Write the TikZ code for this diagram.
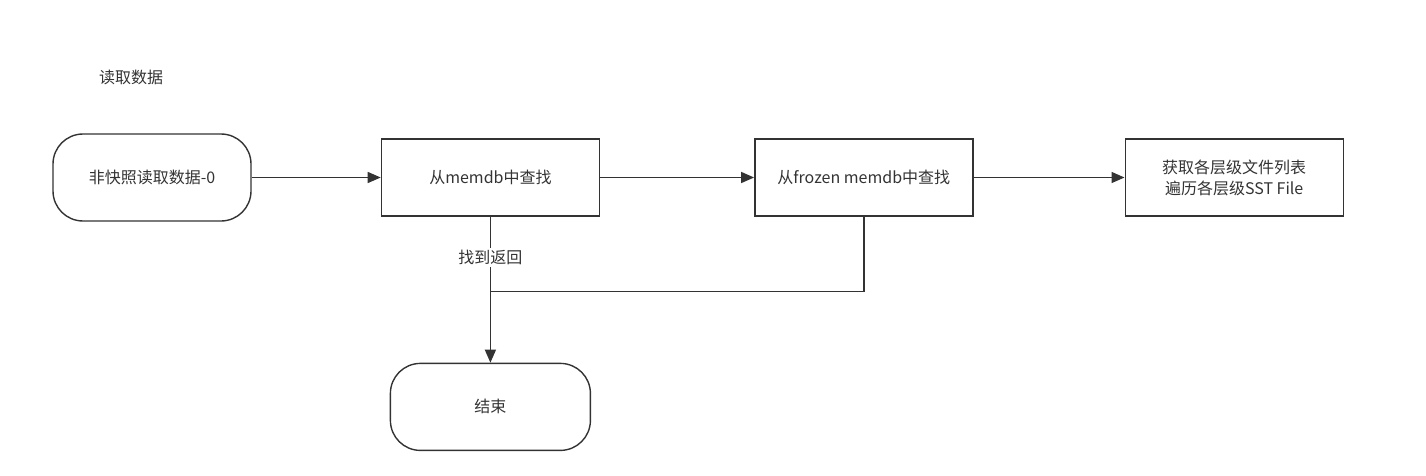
\documentclass[tikz,border=0pt]{standalone}
\usepackage{fontspec}
\newfontfamily\cjk{Noto Sans CJK SC}
\usepackage{tikz}
\usetikzlibrary{arrows.meta, positioning}
\usepackage{xcolor}
\definecolor{flowline}{HTML}{333333}
\definecolor{flowtext}{HTML}{333333}

\begin{document}
\begin{tikzpicture}[
    x=1pt, y=-1pt,
    every node/.style={font=\cjk\fontsize{16}{21}\selectfont, text=flowtext},
    terminal/.style={draw=flowline, rounded corners=30pt, minimum width=198pt, minimum height=87pt, align=center, line width=1.4pt},
    process/.style={draw=flowline, minimum width=218pt, minimum height=77pt, align=center, line width=1.4pt},
    arrow/.style={-{Triangle[length=13pt, width=11pt]}, line width=1.4pt, draw=flowline},
    link/.style={line width=1.4pt, draw=flowline}
]
    \useasboundingbox (0,0) rectangle (1426,476);
    \node (title) at (131,77) {读取数据};

    \node[terminal] (start) at (152,177.5) {非快照读取数据-0};
    \node[process, right=129pt of start] (memdb) {从memdb中查找};
    \node[process, right=154pt of memdb] (frozen) {从frozen memdb中查找};
    \node[process, right=151pt of frozen] (sstfile) {获取各层级文件列表\\遍历各层级SST File};
    \node[terminal, minimum width=200pt, below=146pt of memdb] (done) {结束};
    \coordinate[below=75pt of memdb.south] (join);

    \draw[arrow] (start) -- (memdb);
    \draw[arrow] (memdb) -- (frozen);
    \draw[arrow] (frozen) -- (sstfile);
    \draw[arrow] (memdb) -- node[pos=0.28, fill=white, inner sep=2pt] (found) {找到返回} (done);
    \draw[link] (frozen.south) |- (join);
\end{tikzpicture}
\end{document}
